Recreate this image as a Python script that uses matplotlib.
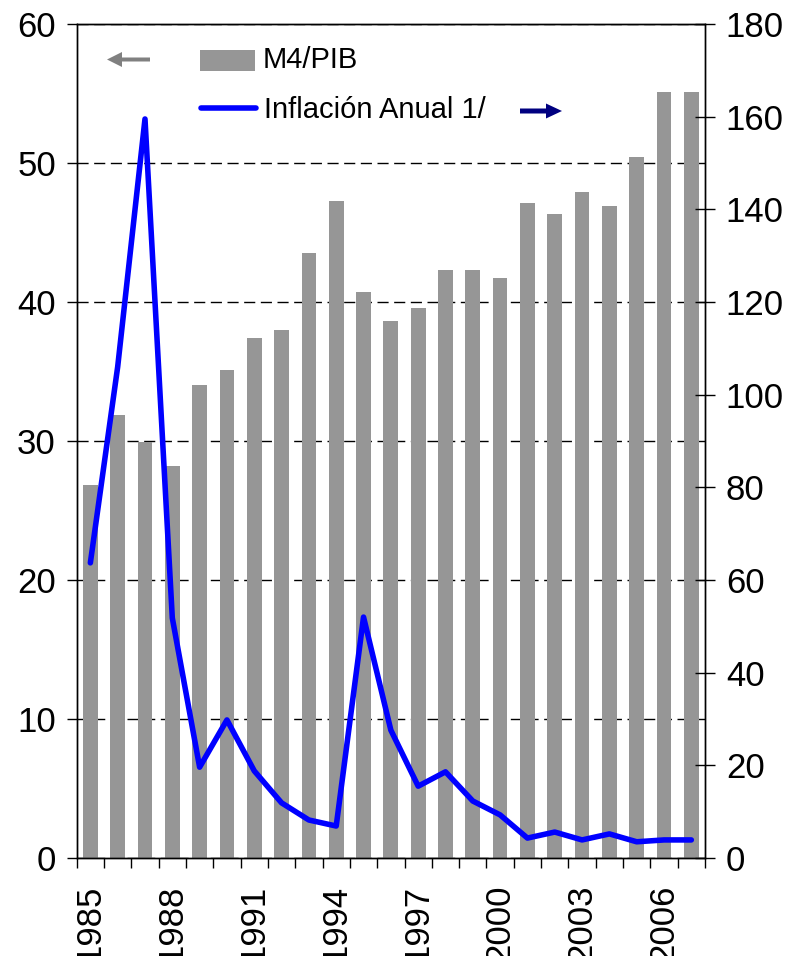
import numpy as np
import matplotlib
matplotlib.use("Agg")
import matplotlib.pyplot as plt
from matplotlib.patches import Rectangle, FancyArrow

plt.rcParams['font.family'] = ['Liberation Sans', 'DejaVu Sans']

# Data
years = list(range(1985, 2008))
m4_pib = [26.8, 31.9, 29.9, 28.2, 34.0, 35.1, 37.4, 38.0, 43.5, 47.3, 40.7, 38.6,
          39.6, 42.3, 42.3, 41.7, 47.1, 46.3, 47.9, 46.9, 50.4, 55.1, 55.1]
inflacion = [63.7, 106.0, 159.5, 51.8, 19.6, 29.8, 18.8, 11.9, 8.2, 6.9, 52.0, 27.6,
             15.5, 18.6, 12.3, 9.3, 4.3, 5.6, 3.9, 5.2, 3.5, 3.9, 3.9]
left_ticks = list(range(0, 61, 10))
right_ticks = list(range(0, 181, 20))
legend_bar = "M4/PIB"
legend_line = "Inflación Anual 1/"

W, H = 790, 956
fig = plt.figure(figsize=(W / 100, H / 100), dpi=100)
ax = fig.add_axes([76.7 / W, 98 / H, 628.3 / W, 834 / H])

x = np.arange(len(years))
ax.bar(x, m4_pib, width=0.54, color='#969696', zorder=2)
ax.set_xlim(-0.5, len(years) - 0.5)
ax.set_ylim(0, 60)
ax.set_yticks(left_ticks)
ax.yaxis.grid(True, linestyle=(0, (8, 4)), color='black', lw=1)
ax.set_axisbelow(True)

# category boundaries as tick marks, every third year labelled
ax.set_xticks(np.arange(-0.5, len(years), 1))
ax.set_xticklabels([])
lab_pos = [i for i, y in enumerate(years) if (y - 1985) % 3 == 0]
ax.set_xticks(lab_pos, minor=True)
ax.set_xticklabels([str(years[i]) for i in lab_pos], minor=True, rotation=90,
                   fontsize=25)
ax.tick_params(axis='x', which='major', direction='out', length=7, width=1)
ax.tick_params(axis='x', which='minor', length=0, pad=19)
ax.tick_params(axis='y', direction='out', length=7, width=1, labelsize=25, pad=8)

ax2 = ax.twinx()
ax2.plot(x, inflacion, color='#0000FF', lw=4.0, solid_capstyle='round',
         solid_joinstyle='round', zorder=3)
ax2.set_ylim(0, 180)
ax2.set_yticks(right_ticks)
ax2.tick_params(axis='y', direction='inout', length=14, width=1, labelsize=25, pad=8)

for a in (ax, ax2):
    for s in a.spines.values():
        s.set_color('black')
        s.set_linewidth(1)

# Legend drawn in figure pixel space
leg = fig.add_axes([0, 0, 1, 1])
leg.set_xlim(0, W)
leg.set_ylim(H, 0)
leg.axis('off')
leg.patch.set_visible(False)

leg.add_patch(FancyArrow(150, 59.5, -43, 0, width=4, head_width=15, head_length=15,
                         length_includes_head=True, color='#808080', lw=0))
leg.add_patch(Rectangle((200, 50), 55, 21, color='#969696', lw=0))
leg.text(263, 68, legend_bar, fontsize=21, ha='left', va='baseline')
leg.plot([201, 256], [108, 108], color='#0000FF', lw=4.0, solid_capstyle='round')
leg.text(264, 118, legend_line, fontsize=21, ha='left', va='baseline')
leg.add_patch(FancyArrow(520, 111, 42, 0, width=5, head_width=15, head_length=16,
                         length_includes_head=True, color='#000080', lw=0))

fig.savefig('out.png', dpi=100)
